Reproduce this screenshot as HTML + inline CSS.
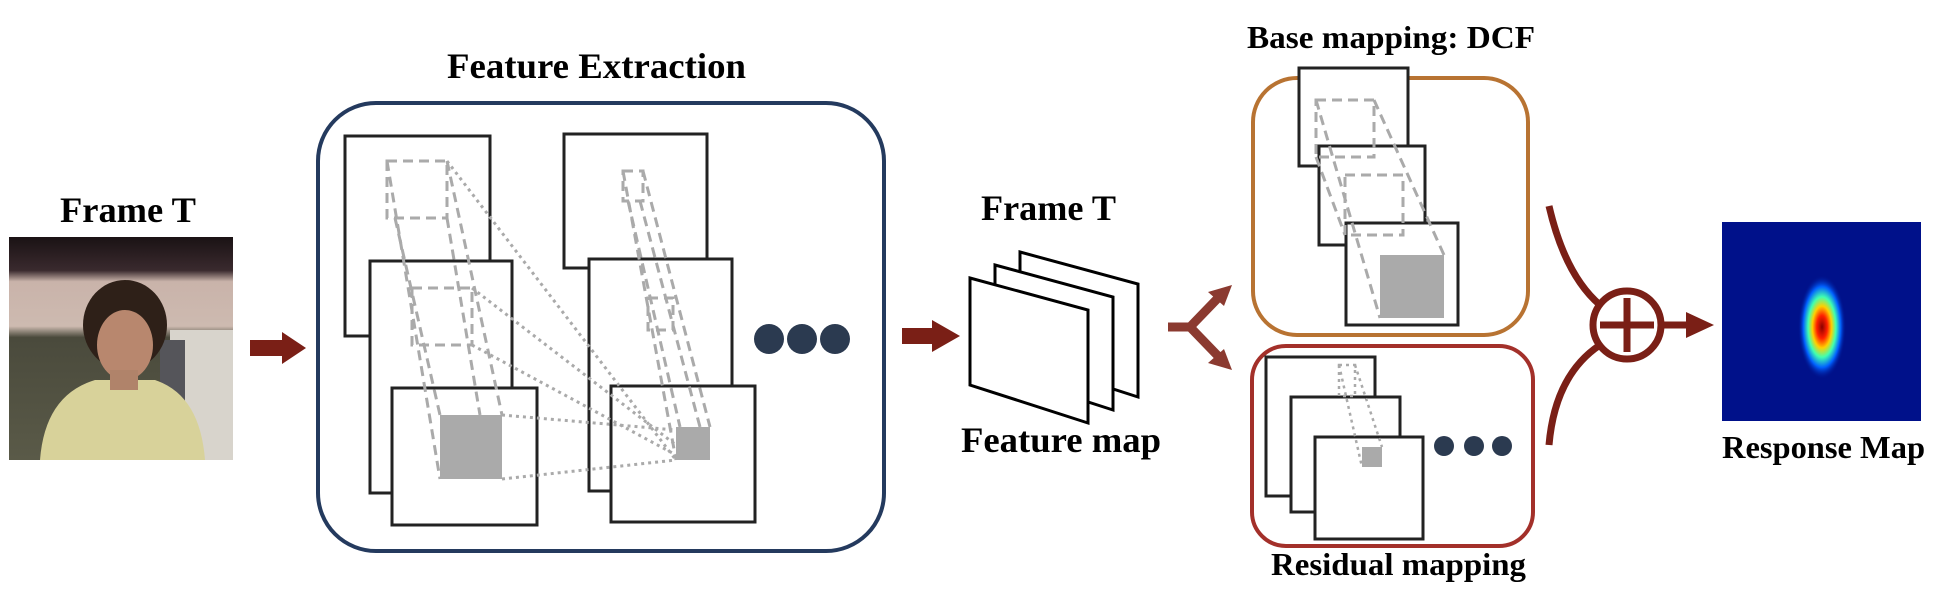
<!DOCTYPE html>
<html><head><meta charset="utf-8"><style>
html,body{margin:0;padding:0;background:#fff;}
svg{display:block}
text{font-family:"Liberation Serif",serif;font-weight:bold;fill:#000;}
</style></head><body>
<svg width="1950" height="608" viewBox="0 0 1950 608" xmlns="http://www.w3.org/2000/svg">
<defs>
<radialGradient id="blob" cx="0.5" cy="0.5" r="0.5">
<stop offset="0" stop-color="#8a0000"/>
<stop offset="0.22" stop-color="#ff2000"/>
<stop offset="0.4" stop-color="#ffd000"/>
<stop offset="0.58" stop-color="#40ffb0"/>
<stop offset="0.78" stop-color="#0060ff"/>
<stop offset="1" stop-color="#00118a" stop-opacity="0"/>
</radialGradient>
<linearGradient id="wall" x1="0" y1="0" x2="0" y2="1">
<stop offset="0" stop-color="#1a1214"/>
<stop offset="0.15" stop-color="#3a2a2e"/>
<stop offset="0.2" stop-color="#c9b3aa"/>
<stop offset="0.4" stop-color="#cdbab0"/>
<stop offset="0.45" stop-color="#4a4a3c"/>
<stop offset="1" stop-color="#5a5a48"/>
</linearGradient>
</defs>

<!-- Titles -->
<text x="60" y="222" font-size="36" textLength="136" lengthAdjust="spacingAndGlyphs">Frame T</text>
<text x="447" y="78" font-size="36" textLength="299" lengthAdjust="spacingAndGlyphs">Feature Extraction</text>
<text x="981" y="220" font-size="36" textLength="135" lengthAdjust="spacingAndGlyphs">Frame T</text>
<text x="961" y="452" font-size="36" textLength="200" lengthAdjust="spacingAndGlyphs">Feature map</text>
<text x="1247" y="48" font-size="32" textLength="288" lengthAdjust="spacingAndGlyphs">Base mapping: DCF</text>
<text x="1271" y="575" font-size="32" textLength="255" lengthAdjust="spacingAndGlyphs">Residual mapping</text>
<text x="1722" y="458" font-size="32" textLength="203" lengthAdjust="spacingAndGlyphs">Response Map</text>

<!-- Photo -->
<rect x="9" y="237" width="224" height="223" fill="url(#wall)"/>
<rect x="170" y="330" width="63" height="130" fill="#d8d4cc"/>
<rect x="160" y="340" width="25" height="80" fill="#55555a"/>
<ellipse cx="125" cy="325" rx="42" ry="45" fill="#2e2018"/>
<ellipse cx="125" cy="345" rx="28" ry="35" fill="#b8876e"/>
<path d="M40 460 Q45 395 95 380 L155 380 Q200 395 205 460 Z" fill="#d8d29a"/>
<rect x="110" y="370" width="28" height="20" fill="#b0836a"/>

<!-- Arrow 1 -->
<polygon points="250,340 282,340 282,332 306,348 282,364 282,356 250,356" fill="#7a1f16"/>

<!-- Feature extraction box -->
<rect x="318" y="103" width="566" height="448" rx="58" fill="none" stroke="#243a5e" stroke-width="4"/>

<g stroke="#222" stroke-width="3" fill="#fff">
<rect x="345" y="136" width="145" height="200"/>
<rect x="370" y="261" width="142" height="232"/>
<rect x="392" y="388" width="145" height="137"/>
<rect x="564" y="134" width="143" height="134"/>
<rect x="589" y="259" width="143" height="232"/>
<rect x="611" y="386" width="144" height="136"/>
</g>
<rect x="440" y="415" width="62" height="64" fill="#aaa"/>
<rect x="676" y="427" width="34" height="33" fill="#aaa"/>
<g stroke="#aaa" stroke-width="3" fill="none" stroke-dasharray="10,6">
<rect x="387" y="161" width="60" height="57"/>
<rect x="412" y="288" width="60" height="57"/>
<line x1="387" y1="161" x2="440" y2="479"/>
<line x1="447" y1="161" x2="502" y2="415"/>
<line x1="395" y1="218" x2="440" y2="415"/>
<line x1="447" y1="218" x2="480" y2="415"/>
<rect x="623" y="171" width="20" height="30"/>
<rect x="648" y="298" width="25" height="32"/>
<line x1="623" y1="171" x2="676" y2="460"/>
<line x1="643" y1="171" x2="710" y2="427"/>
<line x1="628" y1="201" x2="680" y2="427"/>
<line x1="640" y1="201" x2="700" y2="427"/>
</g>
<g stroke="#aaa" stroke-width="3" fill="none" stroke-dasharray="3,4">
<line x1="447" y1="161" x2="676" y2="460"/>
<line x1="472" y1="288" x2="676" y2="445"/>
<line x1="472" y1="345" x2="676" y2="455"/>
<line x1="502" y1="415" x2="676" y2="430"/>
<line x1="502" y1="479" x2="676" y2="460"/>
</g>
<g fill="#2b3a50">
<circle cx="769" cy="339" r="15"/>
<circle cx="802" cy="339" r="15"/>
<circle cx="835" cy="339" r="15"/>
</g>

<!-- Arrow 2 -->
<polygon points="902,328 932,328 932,320 960,336 932,352 932,344 902,344" fill="#7a1f16"/>

<!-- Feature map stacks -->
<g stroke="#000" stroke-width="3" fill="#fff">
<polygon points="1020,252 1138,284 1138,397 1020,359"/>
<polygon points="995,265 1113,297 1113,410 995,372"/>
<polygon points="970,278 1088,310 1088,423 970,385"/>
</g>

<!-- Split arrow -->
<g stroke="#8b3a30" stroke-width="9" fill="none">
<line x1="1168" y1="327" x2="1192" y2="327"/>
<line x1="1190" y1="327" x2="1218" y2="298"/>
<line x1="1190" y1="327" x2="1218" y2="356"/>
</g>
<polygon points="1232,285 1208,292 1224,306" fill="#8b3a30"/>
<polygon points="1232,370 1208,363 1224,349" fill="#8b3a30"/>

<!-- Base box -->
<rect x="1253" y="78" width="275" height="257" rx="44" fill="none" stroke="#b87332" stroke-width="4"/>
<g stroke="#222" stroke-width="3" fill="#fff">
<rect x="1299" y="68" width="109" height="98"/>
<rect x="1319" y="146" width="106" height="99"/>
<rect x="1346" y="223" width="112" height="102"/>
</g>
<rect x="1380" y="255" width="64" height="63" fill="#aaa"/>
<g stroke="#aaa" stroke-width="3" fill="none" stroke-dasharray="10,6">
<rect x="1316" y="100" width="58" height="57"/>
<rect x="1345" y="175" width="58" height="60"/>
<line x1="1316" y1="100" x2="1380" y2="318"/>
<line x1="1374" y1="100" x2="1444" y2="255"/>
<line x1="1316" y1="157" x2="1345" y2="235"/>
</g>

<!-- Residual box -->
<rect x="1252" y="346" width="281" height="200" rx="34" fill="none" stroke="#a3302a" stroke-width="4"/>
<g stroke="#222" stroke-width="3" fill="#fff">
<rect x="1266" y="357" width="109" height="139"/>
<rect x="1291" y="397" width="109" height="115"/>
<rect x="1315" y="437" width="108" height="102"/>
</g>
<rect x="1362" y="447" width="20" height="20" fill="#aaa"/>
<g stroke="#aaa" stroke-width="2.5" fill="none" stroke-dasharray="3,4">
<rect x="1339" y="365" width="16" height="31"/>
<line x1="1339" y1="365" x2="1362" y2="467"/>
<line x1="1355" y1="365" x2="1382" y2="447"/>
</g>
<g fill="#2b3a50">
<circle cx="1444" cy="446" r="10"/>
<circle cx="1474" cy="446" r="10"/>
<circle cx="1502" cy="446" r="10"/>
</g>

<!-- Sum node -->
<g stroke="#7a1f16" stroke-width="7" fill="none">
<path d="M1549 206 Q1565 275 1600 305"/>
<path d="M1549 445 Q1555 375 1600 345"/>
<circle cx="1627" cy="325" r="34"/>
<line x1="1627" y1="298" x2="1627" y2="352"/>
<line x1="1600" y1="325" x2="1654" y2="325"/>
<line x1="1661" y1="325" x2="1690" y2="325"/>
</g>
<polygon points="1686,312 1714,325 1686,338" fill="#7a1f16"/>

<!-- Response map -->
<rect x="1722" y="222" width="199" height="199" fill="#00118a"/>
<ellipse cx="1822" cy="327" rx="24" ry="52" fill="url(#blob)"/>
</svg>
</body></html>
